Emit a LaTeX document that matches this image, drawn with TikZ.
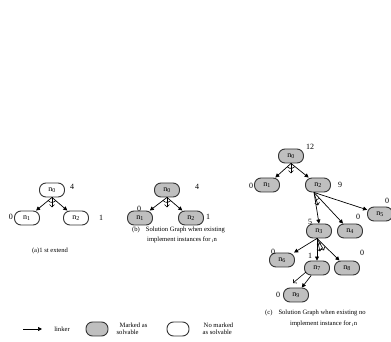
\documentclass[tikz,border=0pt]{standalone}
\usepackage{fontspec}
\setmainfont{Liberation Serif}
\usetikzlibrary{arrows.meta,calc}

\tikzset{
  state/.style={draw=black!80, line width=0.9pt, rounded corners=6.5pt,
    minimum width=25pt, minimum height=14pt, inner sep=0pt,
    font=\fontsize{8}{9}\selectfont},
  solved/.style={state, fill=black!25},
  open/.style={state, fill=white},
  link/.style={line width=0.7pt, -{Triangle[length=4pt,width=4pt]}},
  hint/.style={line width=0.6pt, -{Straight Barb[length=2.5pt,width=5pt]}},
  cost/.style={font=\fontsize{8}{9}\selectfont, inner sep=0pt},
  caption/.style={font=\fontsize{6.6}{7.4}\selectfont, inner sep=0pt},
}

% arc across the branches of an AND node, centred on the hub
\newcommand\andarc[4]{%
  \draw[line width=0.6pt] let \p1=($(#2)-(#1)$), \p2=($(#3)-(#1)$),
    \n1={atan2(\y1,\x1)}, \n2={atan2(\y2,\x2)} in
    ($(#1)+(\n1:#4)$) arc[start angle=\n1, end angle=\n2, radius=#4];}

\begin{document}
\begin{tikzpicture}[x=1pt,y=1pt]
\useasboundingbox (0,0) rectangle (391,342);

% ---------- (a) first extension ----------
\node[open] (a0) at (52,152) {n\textsubscript{0}};
\node[open] (a1) at (27,124) {n\textsubscript{1}};
\node[open] (a2) at (76,124) {n\textsubscript{2}};
\draw[link] (a0.south) -- (a1);
\draw[link] (a0.south) -- (a2);
\andarc{a0.south}{a1}{a2}{5pt}
\coordinate (a0h) at ($(a0.south)+(0,-10)$);
\draw[hint] (a0.south) -- (a0h);
\node[cost] (a0c) at (72,155) {4};
\node[cost] (a1c) at (11,125) {0};
\node[cost] (a2c) at (101,124) {1};
\node[caption] (capa) at (50,91) {(a)1 st extend};

% ---------- (b) solution graph ----------
\node[solved] (b0) at (167,152) {n\textsubscript{0}};
\node[solved] (b1) at (140,124) {n\textsubscript{1}};
\node[solved] (b2) at (191,124) {n\textsubscript{2}};
\draw[link] (b0.south) -- (b1);
\draw[link] (b0.south) -- (b2);
\andarc{b0.south}{b1}{b2}{5pt}
\coordinate (b0h) at ($(b0.south)+(0,-10)$);
\draw[hint] (b0.south) -- (b0h);
\node[cost] (b0c) at (197,155) {4};
\node[cost] (b1c) at (139,133) {0};
\node[cost] (b2c) at (208,125) {1};
\node[caption, anchor=west] (capb1) at (132,112) {(b)\hspace{6pt}Solution Graph when existing};
\node[caption, anchor=west] (capb2) at (147,102) {implement instances for\textsubscript{ i}n};

% ---------- (c) solution graph ----------
\node[solved] (c0) at (291,186) {n\textsubscript{0}};
\node[solved] (c1) at (267,157) {n\textsubscript{1}};
\node[solved] (c2) at (318,157) {n\textsubscript{2}};
\node[solved] (c5) at (380,128) {n\textsubscript{5}};
\node[solved] (c3) at (319,111) {n\textsubscript{3}};
\node[solved] (c4) at (350,111) {n\textsubscript{4}};
\node[solved] (c6) at (282,82) {n\textsubscript{6}};
\node[solved] (c7) at (317,74) {n\textsubscript{7}};
\node[solved] (c8) at (347,74) {n\textsubscript{8}};
\node[solved] (c9) at (296,47) {n\textsubscript{9}};

\draw[link] (c0.south) -- (c1);
\draw[link] (c0.south) -- (c2);
\andarc{c0.south}{c1}{c2}{5pt}
\coordinate (c0h) at ($(c0.south)+(0,-10)$);
\draw[hint] (c0.south) -- (c0h);

\coordinate (c2s) at ($(c2.south)+(-4,0)$);
\draw[link] (c2s) -- (c3.north);
\draw[link] (c2s) -- (c4);
\draw[link] (c2s) -- (c5);
\andarc{c2s}{c3.north}{c4}{8pt}
\coordinate (c2h) at ($(c2s)+(4,-13)$);
\draw[hint] (c2s) -- (c2h);

\coordinate (c3s) at ($(c3.south)+(-2,0)$);
\draw[link] (c3s) -- (c6);
\draw[link] (c3s) -- (c7.north);
\draw[link] (c3s) -- (c8);
\andarc{c3s}{c7.north}{c8}{6pt}
\coordinate (c3h1) at ($(c3s)+(3,-13)$);
\coordinate (c3h2) at ($(c3s)+(7,-12)$);
\draw[hint] (c3s) -- (c3h1);
\draw[hint] (c3s) -- (c3h2);

\draw[link] (c7) -- (c9);
\coordinate (c7p) at (306,70);
\coordinate (c7q) at (293,59);
\draw[hint] (c7p) -- (c7q);

\node[cost] (c0c) at (310,195) {12};
\node[cost] (c1c) at (251,156) {0};
\node[cost] (c2c) at (340,157) {9};
\node[cost] (c5c) at (387,141) {0};
\node[cost] (c3c) at (310,120) {5};
\node[cost] (c4c) at (358,125) {0};
\node[cost] (c6c) at (273,90) {0};
\node[cost] (c7c) at (310,86) {1};
\node[cost] (c8c) at (362,89) {0};
\node[cost] (c9c) at (278,47) {0};
\node[caption, anchor=west] (capc1) at (265,29) {(c)\hspace{6pt}Solution Graph when existing no};
\node[caption, anchor=west] (capc2) at (290,18) {implement instance for\textsubscript{ i}n};

% ---------- legend ----------
\coordinate (lg0) at (23,13);
\coordinate (lg1) at (42,13);
\draw[link] (lg0) -- (lg1);
\node[caption] (lgt) at (62,13) {linker};
\node[solved, minimum width=22pt, minimum height=14pt] (lgs) at (97,13) {};
\node[caption, align=left] (lgst) at (132,13) {\hspace{3pt}Marked as\\solvable};
\node[open, minimum width=22pt, minimum height=14pt] (lgo) at (178,13) {};
\node[caption, align=left] (lgot) at (218,13) {\hspace{1pt}No marked\\as solvable};
\end{tikzpicture}
\end{document}
